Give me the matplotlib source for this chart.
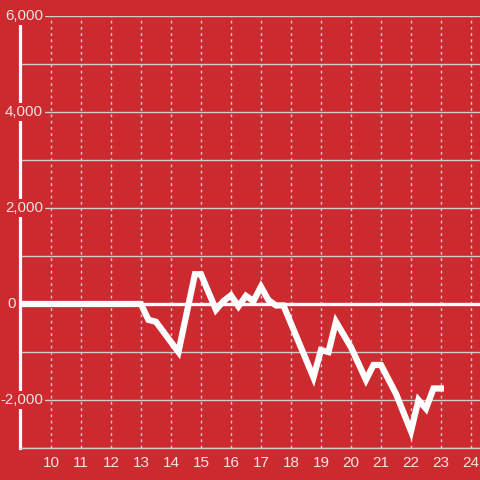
import matplotlib.pyplot as plt

# hours of the day vs. cumulative value
hours = [9.0, 13.0, 13.25, 13.5, 14.25, 14.8, 15.0, 15.5, 15.75, 16.0, 16.25, 16.5,
         16.75, 17.0, 17.25, 17.5, 17.75, 18.75, 19.0, 19.25, 19.5, 20.0, 20.5,
         20.75, 21.0, 21.5, 22.0, 22.25, 22.5, 22.75, 23.1]
values = [0, 0, -330, -370, -1000, 620, 620, -120, 60, 180, -50, 170,
          60, 360, 80, -30, -30, -1530, -960, -1000, -370, -900, -1580,
          -1270, -1270, -1870, -2650, -2000, -2180, -1760, -1760]

x_ticks = list(range(10, 25))
y_grid = list(range(-3000, 7000, 1000))
y_labels = [-2000, 0, 2000, 4000, 6000]

bg = '#cc2a2f'
grid_color = '#d2cccc'
label_color = '#f6e2e2'

plt.rcParams['font.family'] = ['Liberation Sans', 'DejaVu Sans']

fig = plt.figure(figsize=(4.8, 4.8), dpi=100)
fig.patch.set_facecolor(bg)
ax = fig.add_axes([20 / 480, 32 / 480, 460 / 480, 432 / 480])
ax.set_facecolor(bg)

ax.set_xlim(8.97, 24.3)
ax.set_ylim(-3000, 6000)

ax.set_xticks(x_ticks)
ax.set_xticklabels([str(t) for t in x_ticks])
ax.set_yticks(y_grid)
ax.set_yticklabels([])
ax.tick_params(axis='both', length=0)
ax.tick_params(axis='x', pad=6, labelsize=11, labelcolor=label_color)

ax.grid(axis='y', color=grid_color, lw=1)
ax.grid(axis='x', color=grid_color, lw=1, linestyle=(0, (2, 2.5)))
ax.set_axisbelow(True)

for side in ['top', 'right']:
    ax.spines[side].set_visible(False)
ax.spines['bottom'].set_color(grid_color)
ax.spines['bottom'].set_linewidth(1)
ax.spines['left'].set_color('white')
ax.spines['left'].set_linewidth(2.3)

ax.axhline(0, color='white', lw=2.4, zorder=3)
ax.plot(hours, values, color='white', lw=4.5, zorder=4,
        solid_joinstyle='miter', solid_capstyle='butt')

# y labels sit over the axis line on a red box
tr = ax.get_yaxis_transform()
for v in y_labels:
    xpos = -0.009 if v == 0 else 0.05
    ax.text(xpos, v, f'{v:,}', transform=tr, ha='right', va='center',
            fontsize=10.8, color=label_color, zorder=6, clip_on=False,
            bbox=dict(facecolor=bg, edgecolor='none', pad=1.5))

plt.savefig('out.png', dpi=100, facecolor=bg)
plt.close()
